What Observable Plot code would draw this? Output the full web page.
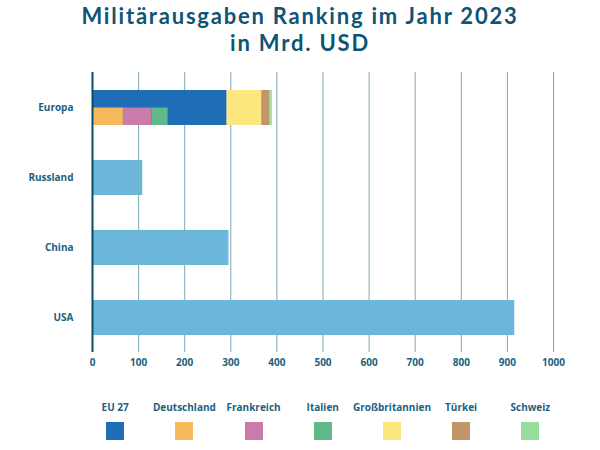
<!DOCTYPE html>
<html>
<head>
<meta charset="utf-8">
<script src="https://cdn.jsdelivr.net/npm/d3@7"></script>
<script src="https://cdn.jsdelivr.net/npm/@observablehq/plot@0.6"></script>
<style>
  body { margin: 0; background: #fff; font-family: "Open Sans", sans-serif; }
  #wrap { width: 600px; height: 450px; position: relative; }
  #title { padding-top: 3px; height: 57px; }
  #title div { text-align: center; color: #0d5475; font-family: Lato, sans-serif; font-size: 22px; letter-spacing: 1.8px; font-weight: 700; line-height: 26.5px; height: 26.5px; }
  #legend { position: absolute; left: 80.6px; top: 400px; display: flex; }
  .item { width: 69.2px; display: flex; flex-direction: column; align-items: center; }
  .item span { font-size: 10px; font-weight: 700; color: #1b5f80; white-space: nowrap; height: 16px; }
  .item i { display: block; width: 18px; height: 18px; margin-top: 6px; }
</style>
</head>
<body>
<div id="wrap">
  <div id="title"><div>Militärausgaben Ranking im Jahr 2023</div><div>in Mrd. USD</div></div>
  <div id="chart"></div>
  <div id="legend"></div>
</div>
<script>
const countries = ["Europa", "Russland", "China", "USA"];
const countryValues = [null, 109, 296, 916];
const europeParts = ["EU 27", "Großbritannien", "Türkei", "Schweiz"];
const europeValues = [292, 75, 17, 6];
const euMembers = ["Deutschland", "Frankreich", "Italien"];
const euMemberValues = [67, 62, 35];
const legendNames = ["EU 27", "Deutschland", "Frankreich", "Italien", "Großbritannien", "Türkei", "Schweiz"];
const legendColors = ["#1f6db6", "#f4b95a", "#c97ba9", "#60b98b", "#fce77f", "#c1956a", "#97dc9a"];
const xTicks = [0, 100, 200, 300, 400, 500, 600, 700, 800, 900, 1000];

const colorOf = Object.fromEntries(legendNames.map((n, i) => [n, legendColors[i]]));

function cumulate(names, vals) {
  let acc = 0;
  return names.map((n, i) => {
    const r = {name: n, y: "Europa", x1: acc, x2: acc + vals[i], color: colorOf[n]};
    acc += vals[i];
    return r;
  });
}
const europeRows = cumulate(europeParts, europeValues);
const memberRows = cumulate(euMembers, euMemberValues);
const others = countries.map((c, i) => ({country: c, value: countryValues[i]})).filter(d => d.value != null);

const chart = Plot.plot({
  width: 600,
  height: 324,
  marginLeft: 92,
  marginRight: 47,
  marginTop: 12,
  marginBottom: 32,
  style: {fontFamily: "Open Sans, sans-serif", fontSize: "10px", fontWeight: 700, color: "#1b5f80"},
  x: {domain: [0, 1000], ticks: xTicks, tickSize: 0, tickPadding: 6, label: null, tickFormat: d => String(d)},
  y: {domain: countries, paddingInner: 0.5, paddingOuter: 0.25, tickSize: 0, tickPadding: 19, label: null},
  marks: [
    Plot.ruleX(xTicks.filter(d => d > 0), {stroke: "#7ea8ba", strokeWidth: 1}),
    Plot.barX(others, {y: "country", x: "value", fill: "#6cb6d9"}),
    Plot.barX(europeRows, {y: "y", x1: "x1", x2: "x2", fill: "color"}),
    Plot.barX(memberRows, {y: "y", x1: "x1", x2: "x2", fill: "color", insetTop: 17.5}),
    Plot.ruleX([0], {stroke: "#0d4a66", strokeWidth: 2})
  ]
});
document.getElementById("chart").appendChild(chart);

const legend = document.getElementById("legend");
legendNames.forEach((n, i) => {
  const d = document.createElement("div");
  d.className = "item";
  d.innerHTML = `<span>${n}</span><i style="background:${legendColors[i]}"></i>`;
  legend.appendChild(d);
});
</script>
</body>
</html>
